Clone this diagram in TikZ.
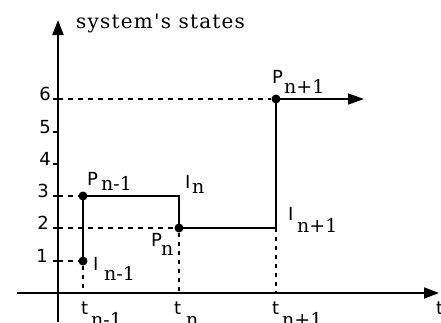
\documentclass[tikz,border=0pt]{standalone}
\usepackage{fontspec}
\setmainfont{DejaVu Serif}
\newfontfamily\lblsans{DejaVu Sans}
\newfontfamily\titlefont[LetterSpace=6]{DejaVu Serif}
\usetikzlibrary{arrows.meta}
\begin{document}
\begin{tikzpicture}[x=1pt,y=-1pt,
  axis/.style={line width=2pt,-{Triangle[length=15pt,width=11pt]}},
  stepline/.style={line width=1.7pt},
  guide/.style={line width=1.4pt,dash pattern=on 5pt off 5pt},
  vguide/.style={line width=1.4pt,dash pattern=on 4pt off 5pt},
  tick/.style={line width=1.4pt},
  dot/.style={circle,fill,inner sep=0pt,minimum size=9pt},
  main/.style={font=\lblsans\fontsize{18}{18}\selectfont,inner sep=0pt,anchor=base west},
  num/.style={font=\lblsans\fontsize{18}{18}\selectfont,inner sep=0pt,anchor=base east},
  sub/.style={font=\fontsize{19}{19}\selectfont,inner sep=0pt,anchor=base west},
  title/.style={font=\titlefont\fontsize{20}{20}\selectfont,inner sep=0pt,anchor=base west},
  ]
\useasboundingbox (0,0) rectangle (441,322);

% axes
\coordinate (xs) at (17,293);
\coordinate (xe) at (439,293);
\coordinate (ys) at (58,322);
\coordinate (ye) at (58,20);
\draw[axis] (xs) -- (xe);
\draw[axis] (ys) -- (ye);
\node[title] (ylabel) at (76,28) {system's states};
\node[main] (xlabel) at (436,314) {t};

% state levels on the vertical axis
\foreach \lv/\yy/\xx in {6/99/51,5/132/51,4/164/51,3/196/49,2/228/49,1/261/48}{
  \coordinate (y\lv) at (58,\yy);
  \coordinate (k\lv) at (53,\yy);
  \draw[tick] (k\lv) -- (y\lv);
  \node[num] (n\lv) at (\xx,\yy+1) {\lv};
}

% time marks on the horizontal axis
\coordinate (tA) at (83,293);
\coordinate (tB) at (179,293);
\coordinate (tC) at (276,293);

% trajectory of the system
\node[dot] (Im1) at (83,261) {};
\node[dot] (Pm1) at (83,196) {};
\node[dot] (Pn) at (179,228) {};
\node[dot] (Pp1) at (276,99) {};
\coordinate (c1) at (179,196);
\coordinate (c2) at (276,228);
\coordinate (aend) at (364,99);

\draw[guide] (y6) -- (Pp1);
\draw[guide] (y3) -- (Pm1);
\draw[guide] (y2) -- (Pn);
\draw[guide] (y1) -- (Im1);
\draw[vguide] (Im1) -- (tA);
\draw[vguide] (Pn) -- (tB);
\draw[vguide] (c2) -- (tC);

\draw[stepline] (Im1.center) -- (Pm1.center) -- (c1) -- (Pn.center) -- (c2) -- (Pp1.center);
\draw[stepline,-{Triangle[length=16pt,width=11pt]}] (Pp1.center) -- (aend);

% labels
\node[main] (lP1) at (87,185) {P};
\node[sub] (sP1) at (101,190) {n-1};
\node[main] (lI2) at (185,188) {I};
\node[sub] (sI2) at (192,193) {n};
\node[main] (lP2) at (151,246) {P};
\node[sub] (sP2) at (161,255) {n};
\node[main] (lI1) at (93,270) {I};
\node[sub] (sI1) at (104,280) {n-1};
\node[main] (lP3) at (272,83) {P};
\node[sub] (sP3) at (284,93) {n+1};
\node[main] (lI3) at (288,220) {I};
\node[sub] (sI3) at (297,232) {n+1};
\node[main] (lt1) at (81,314) {t};
\node[sub] (st1) at (91,326) {n-1};
\node[main] (lt2) at (174,314) {t};
\node[sub] (st2) at (186,326) {n};
\node[main] (lt3) at (272,314) {t};
\node[sub] (st3) at (282,326) {n+1};
\end{tikzpicture}
\end{document}
